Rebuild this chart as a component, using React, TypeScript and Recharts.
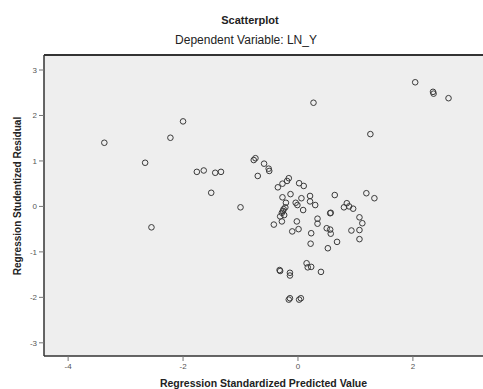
import React from 'react'
import {
  ScatterChart,
  Scatter,
  XAxis,
  YAxis,
  CartesianGrid,
  ReferenceLine,
} from 'recharts'

// standardized predicted value (x) and studentized residual (y)
const predicted = [
  -3.37, -2.0, -2.22, -2.66, -2.55, -1.76, -1.64, -1.44, -1.34, -1.51,
  -1.0, -0.77, -0.74, -0.7, -0.59, -0.51, -0.5, 2.04, 2.35, 2.36,
  2.62, 0.27, 1.26, -0.16, -0.19, -0.27, -0.35, 0.02, 0.1, -0.13,
  -0.27, -0.21, -0.04, -0.01, 0.06, 0.21, 0.21, 0.3, 0.09, -0.25,
  -0.28, -0.24, -0.31, -0.28, -0.42, -0.02, -0.1, 0.01, 0.34, 0.34,
  0.23, 0.22, 0.64, 0.56, 0.57, 0.5, 0.56, 0.57, 0.52, 0.68,
  0.85, 0.8, 0.89, 0.96, 1.07, 1.12, 0.93, 1.07, 1.07, 1.19,
  1.33, 0.15, 0.23, 0.17, 0.4, -0.32, -0.31, -0.14, -0.14, -0.16,
  -0.14, 0.02, 0.05, -0.22, -0.26,
]
const residual = [
  1.4, 1.87, 1.51, 0.96, -0.46, 0.76, 0.79, 0.74, 0.76, 0.3,
  -0.02, 1.02, 1.06, 0.67, 0.94, 0.83, 0.78, 2.73, 2.52, 2.48,
  2.38, 2.28, 1.59, 0.62, 0.56, 0.5, 0.42, 0.51, 0.45, 0.27,
  0.2, 0.08, 0.08, 0.03, 0.18, 0.23, 0.11, 0.03, -0.08, -0.06,
  -0.14, -0.19, -0.22, -0.33, -0.4, -0.33, -0.55, -0.5, -0.27, -0.38,
  -0.59, -0.82, 0.25, -0.15, -0.14, -0.48, -0.51, -0.6, -0.92, -0.78,
  0.07, -0.02, 0.0, -0.05, -0.24, -0.37, -0.53, -0.52, -0.72, 0.29,
  0.18, -1.25, -1.33, -1.34, -1.44, -1.4, -1.42, -1.46, -1.52, -2.05,
  -2.02, -2.05, -2.02, -0.02, -0.1,
]
const xTicks = [-4, -2, 0, 2]
const yTicks = [-3, -2, -1, 0, 1, 2, 3]

const points = predicted.map((x, i) => ({ x, y: residual[i] }))

const Ring = (props: any) => (
  <circle cx={props.cx} cy={props.cy} r={2.8} fill="none" stroke="#3a3a3a" strokeWidth={1} />
)

const font = 'Arial, "Liberation Sans", sans-serif'

export default function App() {
  return (
    <div style={{ position: 'absolute', left: 0, top: 0, width: 483, height: 389, background: '#fff', fontFamily: font }}>
      <div style={{ position: 'absolute', top: 14, width: 500, textAlign: 'center', fontSize: 11, fontWeight: 'bold', color: '#222' }}>
        Scatterplot
      </div>
      <div style={{ position: 'absolute', top: 33, width: 492, textAlign: 'center', fontSize: 12, color: '#222' }}>
        Dependent Variable: LN_Y
      </div>
      <ScatterChart width={483} height={389} margin={{ top: 55, right: 0, bottom: 0, left: 0 }}>
        <CartesianGrid fill="#eeeeee" horizontal={false} vertical={false} />
        <XAxis
          type="number"
          dataKey="x"
          domain={[-4.42, 3.22]}
          ticks={xTicks}
          allowDataOverflow
          height={33}
          tickSize={5}
          axisLine={{ stroke: '#333', strokeWidth: 1.5 }}
          tickLine={{ stroke: '#777' }}
          tick={{ fontSize: 8, fill: '#555', fontFamily: font }}
        />
        <YAxis
          type="number"
          dataKey="y"
          domain={[-3.29, 3.33]}
          ticks={yTicks}
          allowDataOverflow
          width={44}
          tickSize={5}
          axisLine={{ stroke: '#333', strokeWidth: 1.5 }}
          tickLine={{ stroke: '#777' }}
          tick={{ fontSize: 8, fill: '#555', fontFamily: font }}
        />
        <ReferenceLine y={3.33} stroke="#333" strokeWidth={2} />
        <Scatter data={points} shape={Ring} isAnimationActive={false} />
      </ScatterChart>
      <div style={{ position: 'absolute', top: 377, left: 44, width: 439, textAlign: 'center', fontSize: 10.5, fontWeight: 'bold', color: '#222' }}>
        Regression Standardized Predicted Value
      </div>
      <div
        style={{
          position: 'absolute',
          left: 17,
          top: 196,
          transform: 'translate(-50%, -50%) rotate(-90deg)',
          whiteSpace: 'nowrap',
          fontSize: 10,
          fontWeight: 'bold',
          color: '#222',
        }}
      >
        Regression Studentized Residual
      </div>
    </div>
  )
}
